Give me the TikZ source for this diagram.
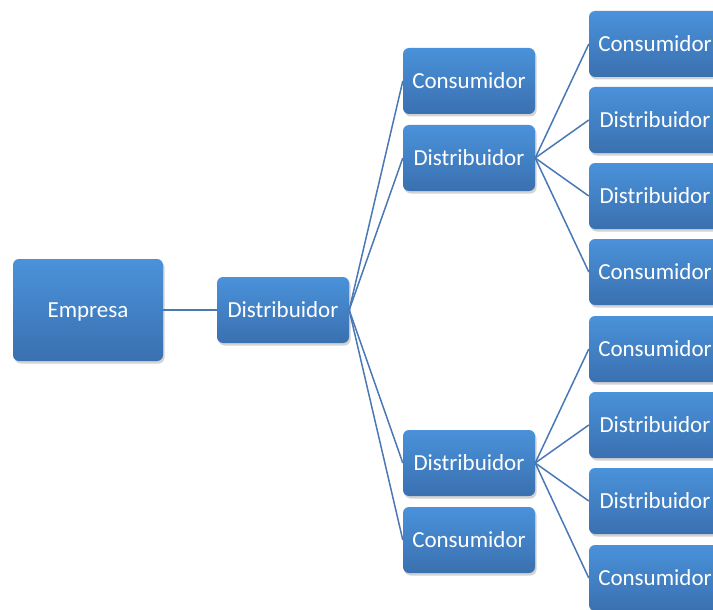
\documentclass[tikz,border=0pt]{standalone}
\usepackage{fontspec}
\setmainfont{Carlito}
\usetikzlibrary{shadows}
\definecolor{boxtop}{RGB}{74,146,218}
\definecolor{boxbot}{RGB}{58,112,176}
\definecolor{linkc}{RGB}{74,120,180}
\tikzset{
  box/.style={rectangle, rounded corners=6pt, top color=boxtop, bottom color=boxbot,
    draw=none, text=white, font=\fontsize{23}{27}\selectfont, inner sep=0pt,
    text depth=0pt, minimum width=132pt, minimum height=66pt,
    drop shadow={opacity=0.35, shadow xshift=1.5pt, shadow yshift=-2.5pt}},
  bigbox/.style={box, minimum width=150pt, minimum height=102pt},
  link/.style={draw=linkc, line width=1.5pt}
}
\begin{document}
\begin{tikzpicture}[x=1pt,y=-1pt]
\useasboundingbox (0,0) rectangle (713,610);
\clip (0,0) rectangle (713,610);
\node[bigbox] (emp) at (88,310) {Empresa};
\node[box] (d1) at (283,310) {Distribuidor};
\node[box] (c3a) at (469,81) {Consumidor};
\node[box] (d3a) at (469,158) {Distribuidor};
\node[box] (d3b) at (469,463) {Distribuidor};
\node[box] (c3b) at (469,540) {Consumidor};
\node[box] (n4a) at (655,44) {Consumidor};
\node[box] (n4b) at (655,120) {Distribuidor};
\node[box] (n4c) at (655,196) {Distribuidor};
\node[box] (n4d) at (655,272) {Consumidor};
\node[box] (n4e) at (655,349) {Consumidor};
\node[box] (n4f) at (655,425) {Distribuidor};
\node[box] (n4g) at (655,501) {Distribuidor};
\node[box] (n4h) at (655,578) {Consumidor};
\draw[link] (emp.east) -- (d1.west);
\foreach \t in {c3a,d3a,d3b,c3b} \draw[link] (d1.east) -- (\t.west);
\foreach \t in {n4a,n4b,n4c,n4d} \draw[link] (d3a.east) -- (\t.west);
\foreach \t in {n4e,n4f,n4g,n4h} \draw[link] (d3b.east) -- (\t.west);
\end{tikzpicture}
\end{document}
